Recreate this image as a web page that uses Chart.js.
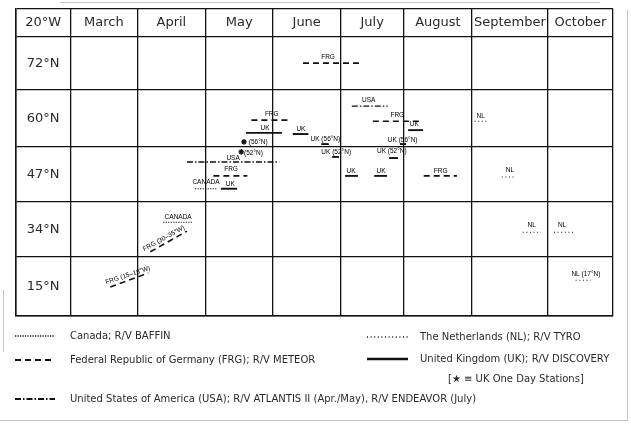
<!DOCTYPE html>
<html>
<head>
<meta charset="utf-8">
<script src="https://cdn.jsdelivr.net/npm/chart.js@4"></script>
<style>
html, body { margin: 0; padding: 0; background: #fff; }
#wrap { width: 631px; height: 431px; }
</style>
</head>
<body>
<div id="wrap"><canvas id="chart"></canvas></div>
<script>
// table headings
const corner = '20°W';
const months = ['March', 'April', 'May', 'June', 'July', 'August', 'September', 'October'];
const latitudes = ['72°N', '60°N', '47°N', '34°N', '15°N'];
// cell edges as drawn in the original table (months since 1 March / row units)
const monthEdges = [0, 0.99, 1.99, 2.99, 3.98, 4.92, 5.92, 7.04, 8];
const rowEdges = [0, 1.06, 2.04, 3.03, 4.05, 5.0];

// cruise tracks: [x0, y0, x1, y1]
// x = months since 1 March, y = row units counted up from the bottom of the table
const canadaTracks = [[1.84, 2.28, 2.16, 2.28], [1.37, 1.68, 1.80, 1.68]];
const frgTracks = [
	[3.43, 4.53, 4.26, 4.53], [4.46, 3.49, 5.18, 3.49], [2.67, 3.51, 3.23, 3.51],
	[2.11, 2.51, 2.61, 2.51], [5.21, 2.51, 5.70, 2.51],
	[1.18, 1.15, 1.72, 1.52], [0.59, 0.52, 1.15, 0.77]
];
const usaTracks = [[4.15, 3.76, 4.68, 3.76], [1.72, 2.76, 3.08, 2.76]];
const ukTracks = [
	[4.98, 3.33, 5.20, 3.33], [4.86, 3.08, 4.95, 3.08], [4.70, 2.83, 4.83, 2.83],
	[2.59, 3.28, 3.12, 3.28], [3.28, 3.26, 3.51, 3.26], [3.70, 3.08, 3.81, 3.08],
	[2.22, 2.28, 2.46, 2.28], [3.86, 2.85, 3.96, 2.85], [4.05, 2.51, 4.24, 2.51],
	[4.48, 2.51, 4.67, 2.51]
];
const nlTracks = [
	[5.96, 3.49, 6.14, 3.49], [6.36, 2.49, 6.57, 2.49], [6.67, 1.50, 6.94, 1.50],
	[7.13, 1.50, 7.41, 1.50], [7.45, 0.64, 7.67, 0.64]
];
// UK one day stations [x, y]
const ukStations = [[2.56, 3.12], [2.52, 2.94]];

// track labels: [text, x, y, angle in degrees]
const trackLabels = [
	['FRG', 3.80, 4.64, 0], ['USA', 4.40, 3.87, 0], ['FRG', 4.82, 3.60, 0], ['UK', 5.07, 3.44, 0],
	['UK (56°N)', 4.90, 3.15, 0], ['UK (52°N)', 4.74, 2.96, 0], ['NL', 6.05, 3.58, 0],
	['FRG', 2.97, 3.62, 0], ['UK', 2.87, 3.37, 0], ['UK', 3.40, 3.35, 0], ['UK (56°N)', 3.76, 3.17, 0],
	['(56°N)', 2.77, 3.12, 0], ['USA', 2.40, 2.83, 0], ['(52°N)', 2.70, 2.92, 0],
	['FRG', 2.37, 2.63, 0], ['CANADA', 2.00, 2.40, 0], ['UK', 2.36, 2.36, 0], ['UK (52°N)', 3.92, 2.94, 0],
	['UK', 4.14, 2.60, 0], ['UK', 4.58, 2.60, 0], ['FRG', 5.46, 2.60, 0], ['NL', 6.48, 2.62, 0],
	['CANADA', 1.59, 1.77, 0], ['FRG (30–35°W)', 1.38, 1.39, -29], ['FRG (15–18°W)', 0.85, 0.73, -18],
	['NL', 6.80, 1.63, 0], ['NL', 7.25, 1.63, 0], ['NL (17°N)', 7.60, 0.75, 0]
];

const legendTexts = {
	canada: 'Canada; R/V BAFFIN',
	frg: 'Federal Republic of Germany (FRG); R/V METEOR',
	usa: 'United States of America (USA); R/V ATLANTIS II (Apr./May), R/V ENDEAVOR (July)',
	nl: 'The Netherlands (NL); R/V TYRO',
	uk: 'United Kingdom (UK); R/V DISCOVERY',
	star: '[★ ≡ UK One Day Stations]'
};

const ink = '#111';
const styles = {
	canada: { dash: [1.2, 1.3], width: 1.2 },
	frg: { dash: [6, 4], width: 1.6 },
	usa: { dash: [6, 2, 1.5, 2], width: 1.4 },
	uk: { dash: [], width: 1.9 },
	nl: { dash: [1, 2.6], width: 1 }
};

function trackSets(list, st) {
	return list.map(t => ({
		data: [{ x: t[0], y: t[1] }, { x: t[2], y: t[3] }],
		showLine: true,
		borderColor: ink,
		borderWidth: st.width,
		borderDash: st.dash,
		pointRadius: 0,
		tension: 0
	}));
}

var datasets = [].concat(
	trackSets(canadaTracks, styles.canada),
	trackSets(frgTracks, styles.frg),
	trackSets(usaTracks, styles.usa),
	trackSets(ukTracks, styles.uk),
	trackSets(nlTracks, styles.nl)
);
datasets.push({
	data: ukStations.map(s => ({ x: s[0], y: s[1] })),
	showLine: false,
	pointStyle: 'star',
	pointRadius: 2.8,
	borderWidth: 1.3,
	borderColor: ink,
	backgroundColor: ink
});

const xBounds = [-0.8].concat(monthEdges);
const yBounds = rowEdges.concat([5.5]);

const tablePlugin = {
	id: 'tableText',
	afterDraw(chart) {
		const ctx = chart.ctx;
		const xs = chart.scales.x, ys = chart.scales.y;
		const headY = ys.getPixelForValue(5.25);
		const firstX = xs.getPixelForValue(-0.4);
		ctx.save();
		ctx.fillStyle = '#2a2a2a';
		ctx.textAlign = 'center';
		ctx.textBaseline = 'middle';

		// header row and first column
		ctx.font = '13px "DejaVu Sans"';
		ctx.fillText(corner, firstX, headY);
		months.forEach((m, i) => {
			const cx = xs.getPixelForValue((monthEdges[i] + monthEdges[i + 1]) / 2);
			ctx.fillText(m, cx, headY);
		});
		latitudes.forEach((l, i) => {
			const k = rowEdges.length - 1 - i;
			ctx.fillText(l, firstX, ys.getPixelForValue((rowEdges[k] + rowEdges[k - 1]) / 2));
		});

		// small labels on the tracks
		ctx.fillStyle = '#000';
		ctx.font = '6.5px "Liberation Sans"';
		trackLabels.forEach(l => {
			ctx.save();
			ctx.translate(xs.getPixelForValue(l[1]), ys.getPixelForValue(l[2]));
			ctx.rotate(l[3] * Math.PI / 180);
			ctx.fillText(l[0], 0, 0);
			ctx.restore();
		});

		// legend
		ctx.font = '10px "DejaVu Sans"';
		ctx.textAlign = 'left';
		ctx.fillStyle = '#2a2a2a';
		const legendItem = (st, x, y, text, w, gap) => {
			ctx.save();
			ctx.strokeStyle = ink;
			ctx.lineWidth = st.width + 0.4;
			ctx.setLineDash(st.dash);
			ctx.beginPath();
			ctx.moveTo(x, y);
			ctx.lineTo(x + w, y);
			ctx.stroke();
			ctx.restore();
			ctx.fillText(text, x + gap, y);
		};
		legendItem(styles.canada, 15, 336, legendTexts.canada, 40, 55);
		legendItem(styles.frg, 15, 360, legendTexts.frg, 40, 55);
		legendItem(styles.usa, 15, 399, legendTexts.usa, 40, 55);
		legendItem(styles.nl, 367, 337, legendTexts.nl, 41, 53);
		legendItem(styles.uk, 367, 359, legendTexts.uk, 41, 53);
		ctx.fillText(legendTexts.star, 448, 379);

		// faint page edges of the scan
		ctx.strokeStyle = '#c4c4c4';
		ctx.lineWidth = 1;
		ctx.beginPath();
		ctx.moveTo(3.5, 290); ctx.lineTo(3.5, 352);
		ctx.moveTo(627.5, 10); ctx.lineTo(627.5, 420);
		ctx.moveTo(0, 420.5); ctx.lineTo(628, 420.5);
		ctx.moveTo(60, 2.5); ctx.lineTo(600, 2.5);
		ctx.stroke();
		ctx.restore();
	}
};

new Chart(document.getElementById('chart'), {
	type: 'scatter',
	data: { datasets: datasets },
	options: {
		responsive: true,
		maintainAspectRatio: false,
		animation: false,
		layout: { padding: { left: 16, top: 9, right: 18, bottom: 115 } },
		plugins: { legend: { display: false }, tooltip: { enabled: false } },
		scales: {
			x: {
				type: 'linear', min: -0.8, max: 8,
				afterBuildTicks: s => { s.ticks = xBounds.map(v => ({ value: v })); },
				ticks: { display: false },
				grid: { color: ink, lineWidth: 1.3, drawTicks: false },
				border: { color: ink, width: 1.5 }
			},
			y: {
				type: 'linear', min: 0, max: 5.5,
				afterBuildTicks: s => { s.ticks = yBounds.map(v => ({ value: v })); },
				ticks: { display: false },
				grid: { color: ink, lineWidth: 1.3, drawTicks: false },
				border: { color: ink, width: 1.5 }
			}
		}
	},
	plugins: [tablePlugin]
});
</script>
</body>
</html>
